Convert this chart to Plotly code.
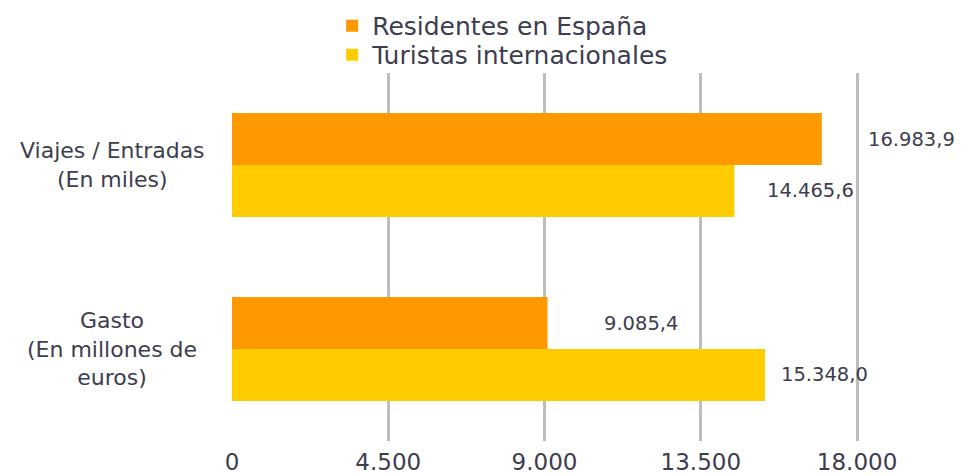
import plotly.graph_objects as go

categories = ["Viajes / Entradas<br>(En miles)", "Gasto<br>(En millones de<br>euros)"]
series_names = ["Residentes en España", "Turistas internacionales"]
residentes = [16983.9, 9085.4]
turistas = [14465.6, 15348.0]
residentes_labels = ["16.983,9", "9.085,4"]
turistas_labels = ["14.465,6", "15.348,0"]
tick_vals = [0, 4500, 9000, 13500, 18000]
tick_text = ["0", "4.500", "9.000", "13.500", "18.000"]

colors = ["#FF9900", "#FFCC00"]
text_color = "#3d3d4f"
FONT = "DejaVu Sans"

# label offsets (px) per series, matching the reference placement
res_shift = [45, 55]
tur_shift = [32, 15]

fig = go.Figure()
fig.add_trace(go.Bar(y=[0, 1], x=residentes, orientation="h", name=series_names[0],
                     marker=dict(color=colors[0], line=dict(width=0)), offsetgroup="a",
                     legend="legend"))
fig.add_trace(go.Bar(y=[0, 1], x=turistas, orientation="h", name=series_names[1],
                     marker=dict(color=colors[1], line=dict(width=0)), offsetgroup="b",
                     legend="legend2"))

annotations = []
for i in range(len(categories)):
    annotations.append(dict(x=residentes[i], y=i - 0.141, xref="x", yref="y", text=residentes_labels[i],
                            showarrow=False, xanchor="left", xshift=res_shift[i], borderpad=0,
                            font=dict(family=FONT, size=19.5, color=text_color)))
    annotations.append(dict(x=turistas[i], y=i + 0.141, xref="x", yref="y", text=turistas_labels[i],
                            showarrow=False, xanchor="left", xshift=tur_shift[i], borderpad=0,
                            font=dict(family=FONT, size=19.5, color=text_color)))
    annotations.append(dict(x=0, y=i, xref="paper", yref="y", text=categories[i], showarrow=False,
                            xanchor="center", xshift=-120, align="center",
                            font=dict(family=FONT, size=22, color=text_color)))

legend_common = dict(orientation="v", xanchor="left", yanchor="middle",
                     font=dict(family=FONT, size=25, color=text_color), itemwidth=30,
                     bgcolor="rgba(0,0,0,0)")

fig.update_layout(
    width=955, height=467,
    margin=dict(l=224, r=0, t=65, b=34, autoexpand=False),
    plot_bgcolor="white", paper_bgcolor="white",
    barmode="group", bargap=0.435, bargroupgap=0,
    font=dict(family=FONT, size=20, color=text_color),
    legend=dict(x=0.137, y=1.128, **legend_common),
    legend2=dict(x=0.137, y=1.049, **legend_common),
    annotations=annotations,
    showlegend=True,
)
fig.update_xaxes(range=[0, 21050], tickvals=tick_vals, ticktext=tick_text, showgrid=True,
                 gridcolor="#bdbdbd", gridwidth=2.5, zeroline=False, showline=False,
                 tickfont=dict(family=FONT, size=23, color=text_color), ticks="", ticklabelstandoff=5)
fig.update_yaxes(range=[1.5, -0.5], showticklabels=False, showgrid=False, zeroline=False, showline=False)

fig.write_html("out.html")
